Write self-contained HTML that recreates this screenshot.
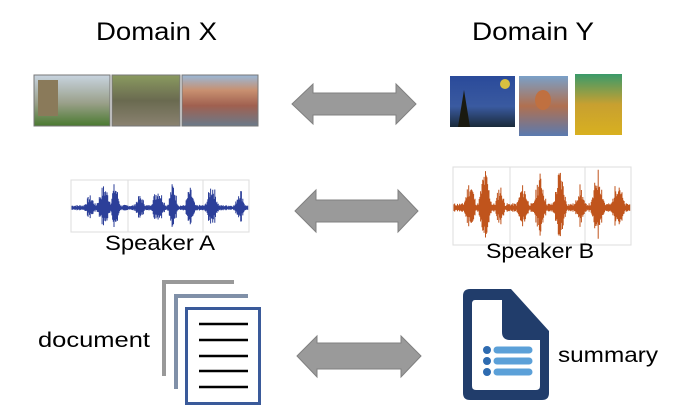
<!DOCTYPE html>
<html><head><meta charset="utf-8"><style>
html,body{margin:0;padding:0;background:#fff;width:682px;height:420px;overflow:hidden}
svg{display:block;font-family:"Liberation Sans",sans-serif}
</style></head><body>
<svg id="s" width="682" height="420" viewBox="0 0 682 420" xmlns="http://www.w3.org/2000/svg">
<defs>
<linearGradient id="sky" x1="0" y1="0" x2="0" y2="1"><stop offset="0" stop-color="#c8d4e0"/><stop offset="0.55" stop-color="#9aa08a"/><stop offset="1" stop-color="#4a7a30"/></linearGradient>
<linearGradient id="can" x1="0" y1="0" x2="0" y2="1"><stop offset="0" stop-color="#8a9a60"/><stop offset="0.5" stop-color="#6a6a50"/><stop offset="1" stop-color="#8a8270"/></linearGradient>
<linearGradient id="town" x1="0" y1="0" x2="0" y2="1"><stop offset="0" stop-color="#9ab8d8"/><stop offset="0.3" stop-color="#c89070"/><stop offset="0.6" stop-color="#a06050"/><stop offset="1" stop-color="#6a7a8a"/></linearGradient>
<linearGradient id="star" x1="0" y1="0" x2="0" y2="1"><stop offset="0" stop-color="#2a4a9a"/><stop offset="0.6" stop-color="#3a5aa0"/><stop offset="1" stop-color="#1a2a3a"/></linearGradient>
<linearGradient id="vg" x1="0" y1="0" x2="0" y2="1"><stop offset="0" stop-color="#7aa0c8"/><stop offset="0.5" stop-color="#b07050"/><stop offset="1" stop-color="#5a7ab0"/></linearGradient>
<linearGradient id="sun" x1="0" y1="0" x2="0" y2="1"><stop offset="0" stop-color="#3a9a6a"/><stop offset="0.5" stop-color="#c8a030"/><stop offset="1" stop-color="#d8b020"/></linearGradient>
</defs>
<text x="96" y="40" font-size="25" textLength="121" lengthAdjust="spacingAndGlyphs">Domain X</text>
<text x="472" y="40" font-size="25" textLength="122" lengthAdjust="spacingAndGlyphs">Domain Y</text>

<!-- photos -->
<rect x="34" y="75" width="76" height="51" fill="url(#sky)" stroke="#777"/>
<rect x="38" y="80" width="20" height="36" fill="#8a7a5a"/>
<rect x="112" y="75" width="68" height="51" fill="url(#can)" stroke="#777"/>
<rect x="182" y="75" width="76" height="51" fill="url(#town)" stroke="#777"/>

<!-- paintings -->
<rect x="450" y="76" width="65" height="51" fill="url(#star)"/>
<circle cx="505" cy="84" r="5" fill="#d8c040"/>
<path d="M458 127 L464 90 L470 127Z" fill="#1a1a10"/>
<rect x="519" y="76" width="49" height="60" fill="url(#vg)"/>
<ellipse cx="543" cy="100" rx="8" ry="10" fill="#c07040"/>
<rect x="575" y="74" width="47" height="61" fill="url(#sun)"/>

<!-- arrows -->
<g fill="#9a9a9a" stroke="#808080" stroke-width="1">
<path d="M292 104 L313 84 L313 93 L396 93 L396 84 L416 104 L396 124 L396 115 L313 115 L313 124Z"/>
<path d="M295 211 L316 190 L316 200 L398 200 L398 190 L418 211 L398 232 L398 222 L316 222 L316 232Z"/>
<path d="M297 356 L317 336 L317 343 L401 343 L401 336 L421 356 L401 377 L401 369 L317 369 L317 377Z"/>
</g>

<!-- waveforms -->
<rect x="71" y="180" width="178" height="52" fill="none" stroke="#ddd"/>
<line x1="128" y1="180" x2="128" y2="232" stroke="#ddd"/><line x1="203" y1="180" x2="203" y2="232" stroke="#ddd"/>
<g id="wa" stroke="#2c3f99" stroke-width="1"></g>
<rect x="453" y="167" width="178" height="78" fill="none" stroke="#ddd"/>
<line x1="510" y1="167" x2="510" y2="245" stroke="#ddd"/><line x1="585" y1="167" x2="585" y2="245" stroke="#ddd"/>
<g id="wb" stroke="#c0541c" stroke-width="1"></g>
<text x="105" y="250" font-size="21" textLength="110" lengthAdjust="spacingAndGlyphs">Speaker A</text>
<text x="486" y="258" font-size="21" textLength="108" lengthAdjust="spacingAndGlyphs">Speaker B</text>

<!-- documents -->
<path d="M164 376 L164 282 L234 282" fill="none" stroke="#999" stroke-width="4"/>
<path d="M176 389 L176 296 L248 296" fill="none" stroke="#8090a8" stroke-width="4"/>
<rect x="186.5" y="308.5" width="73" height="95" fill="#fff" stroke="#3a5a9a" stroke-width="3"/>
<g stroke="#000" stroke-width="2.6">
<line x1="199" y1="324" x2="248" y2="324"/><line x1="199" y1="340" x2="248" y2="340"/>
<line x1="199" y1="356" x2="248" y2="356"/><line x1="199" y1="371" x2="248" y2="371"/>
<line x1="199" y1="387" x2="248" y2="387"/>
</g>
<text x="38" y="347" font-size="21" textLength="112" lengthAdjust="spacingAndGlyphs">document</text>

<!-- summary icon -->
<path d="M470 289 L511 289 L549 331 L549 393 Q549 400 542 400 L470 400 Q463 400 463 393 L463 296 Q463 289 470 289Z" fill="#213d6b"/>
<path d="M475 300 L502 300 L502 332 Q502 340 510 340 L540 340 L540 386 Q540 390 536 390 L476 390 Q472 390 472 386 L472 304 Q472 300 475 300Z" fill="#fff"/>
<g fill="#2e6bb0"><circle cx="487" cy="350" r="4"/><circle cx="487" cy="361" r="4"/><circle cx="487" cy="372" r="4"/></g>
<g stroke="#5ba0d8" stroke-width="7" stroke-linecap="round"><line x1="497" y1="350" x2="529" y2="350"/><line x1="497" y1="361" x2="529" y2="361"/><line x1="497" y1="372" x2="529" y2="372"/></g>
<text x="558" y="362" font-size="21" textLength="100" lengthAdjust="spacingAndGlyphs">summary</text>
</svg>
<script>
function wave(id,x0,x1,cy,maxA,seed,peaks){
  var g=document.getElementById(id),s=seed,d="";
  function r(){s=(s*9301+49297)%233280;return s/233280;}
  for(var x=x0;x<=x1;x+=0.7){
    var env=0.12;
    for(var i=0;i<peaks.length;i++){var p=peaks[i];var t=(x-p[0])/p[1];env=Math.max(env,p[2]*Math.exp(-t*t));}
    var a=maxA*env*(0.4+0.6*r());
    d+="M"+x.toFixed(1)+" "+(cy-a).toFixed(1)+"V"+(cy+a*0.8).toFixed(1);
  }
  var p=document.createElementNS("http://www.w3.org/2000/svg","path");
  p.setAttribute("d",d);g.appendChild(p);
}
wave("wa",72,248,208,26,7,[[90,5,.5],[104,6,.9],[115,4,1],[140,5,.5],[158,6,.8],[173,4,1],[190,4,.8],[212,5,1],[240,4,.8]]);
wave("wb",454,630,208,40,11,[[470,5,.7],[485,5,1],[500,4,.6],[523,5,.6],[540,5,.9],[560,5,1],[580,4,.6],[598,5,1],[618,5,.8]]);
</script>
</body></html>
